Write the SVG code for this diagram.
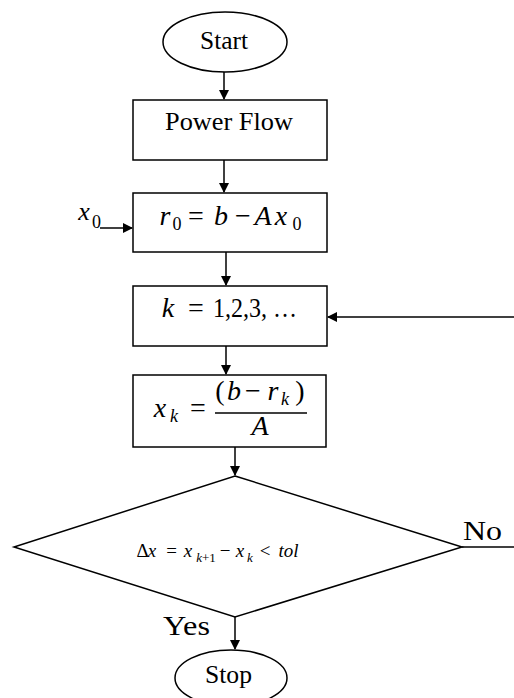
<svg xmlns="http://www.w3.org/2000/svg" width="514" height="698" viewBox="0 0 514 698">
<defs>
<marker id="ah" markerWidth="10" markerHeight="10" refX="9" refY="5" orient="auto" markerUnits="userSpaceOnUse">
<path d="M0,0 L10,5 L0,10 Z" fill="#000"/>
</marker>
<style>
.shape{fill:#fff;stroke:#000;stroke-width:1.5}
.conn{stroke:#000;stroke-width:1.5;fill:none}
.lbl{font-family:"Liberation Serif","DejaVu Serif",serif;fill:#000;font-size:26px}
.m{font-family:"Liberation Serif","DejaVu Serif",serif;font-style:italic;fill:#000;font-size:28px;text-anchor:middle}
.n{font-family:"Liberation Serif","DejaVu Serif",serif;font-style:normal;fill:#000;font-size:28px;text-anchor:middle}
.s{font-size:18px}
.d{font-size:19px}
.ds{font-size:13px}
</style>
</defs>
<rect width="514" height="698" fill="#fff"/>
<g id="connectors">
<line class="conn" x1="224" y1="72" x2="224" y2="99" marker-end="url(#ah)"/>
<line class="conn" x1="224" y1="160" x2="224" y2="192" marker-end="url(#ah)"/>
<line class="conn" x1="100" y1="228" x2="132" y2="228" marker-end="url(#ah)"/>
<line class="conn" x1="226" y1="252" x2="226" y2="285" marker-end="url(#ah)"/>
<line class="conn" x1="514" y1="317" x2="328" y2="317" marker-end="url(#ah)"/>
<line class="conn" x1="226" y1="346" x2="226" y2="374" marker-end="url(#ah)"/>
<line class="conn" x1="235" y1="447" x2="235" y2="475" marker-end="url(#ah)"/>
<line class="conn" x1="462" y1="547" x2="514" y2="547"/>
<line class="conn" x1="235" y1="617" x2="235" y2="649" marker-end="url(#ah)"/>
<text class="lbl" x="463" y="540" font-size="28" style="font-size:28px" textLength="39" lengthAdjust="spacingAndGlyphs">No</text>
<text class="lbl" x="163" y="635" style="font-size:28px" textLength="47" lengthAdjust="spacingAndGlyphs">Yes</text>
<text class="m" x="84" y="220" style="font-size:26px">x</text>
<text class="n s" x="96.5" y="228">0</text>
</g>
<g id="start">
<ellipse class="shape" cx="225" cy="42" rx="62" ry="30"/>
<text class="lbl" x="200" y="49" textLength="48" lengthAdjust="spacingAndGlyphs">Start</text>
</g>
<g id="powerflow">
<rect class="shape" x="133" y="100" width="194" height="60"/>
<text class="lbl" x="165" y="130" textLength="128" lengthAdjust="spacingAndGlyphs">Power Flow</text>
</g>
<g id="r0">
<rect class="shape" x="133" y="193" width="194" height="59"/>
<text class="m" x="165" y="225">r</text>
<text class="n s" x="177" y="230">0</text>
<text class="n" x="196" y="225">=</text>
<text class="m" x="221" y="225">b</text>
<text class="n" x="243" y="225">−</text>
<text class="m" x="263" y="225">A</text>
<text class="m" x="281" y="225">x</text>
<text class="n s" x="297" y="230">0</text>
</g>
<g id="kloop">
<rect class="shape" x="133" y="286" width="194" height="60"/>
<text class="m" x="168" y="317">k</text>
<text class="n" x="196" y="317">=</text>
<text class="n" x="213" y="317" style="text-anchor:start" textLength="84" lengthAdjust="spacingAndGlyphs">1,2,3, …</text>
</g>
<g id="xk">
<rect class="shape" x="133" y="375" width="193" height="72"/>
<text class="m" x="160" y="417">x</text>
<text class="m s" x="174" y="422">k</text>
<text class="n" x="198" y="417">=</text>
<text class="n" x="220" y="400">(</text>
<text class="m" x="234" y="400">b</text>
<text class="n" x="253" y="400">−</text>
<text class="m" x="273" y="400">r</text>
<text class="m s" x="285" y="405">k</text>
<text class="n" x="300" y="400">)</text>
<line x1="215" y1="413" x2="307" y2="413" stroke="#000" stroke-width="1.5"/>
<text class="m" x="260" y="435">A</text>
</g>
<g id="decision">
<polygon class="shape" points="235,476 462,547 235,617 14,547"/>
<text class="n d" x="142.5" y="557">Δ</text>
<text class="m d" x="152" y="557">x</text>
<text class="n d" x="171.5" y="557">=</text>
<text class="m d" x="188" y="557">x</text>
<text class="n ds" x="206" y="562"><tspan font-style="italic">k</tspan>+1</text>
<text class="n d" x="225" y="557">−</text>
<text class="m d" x="240" y="557">x</text>
<text class="m ds" x="250" y="562">k</text>
<text class="n d" x="265" y="557">&lt;</text>
<text class="m d" x="288.5" y="557">tol</text>
</g>
<g id="stop">
<ellipse class="shape" cx="231" cy="678" rx="56" ry="28"/>
<text class="lbl" x="205" y="683" textLength="47" lengthAdjust="spacingAndGlyphs">Stop</text>
</g>
</svg>
